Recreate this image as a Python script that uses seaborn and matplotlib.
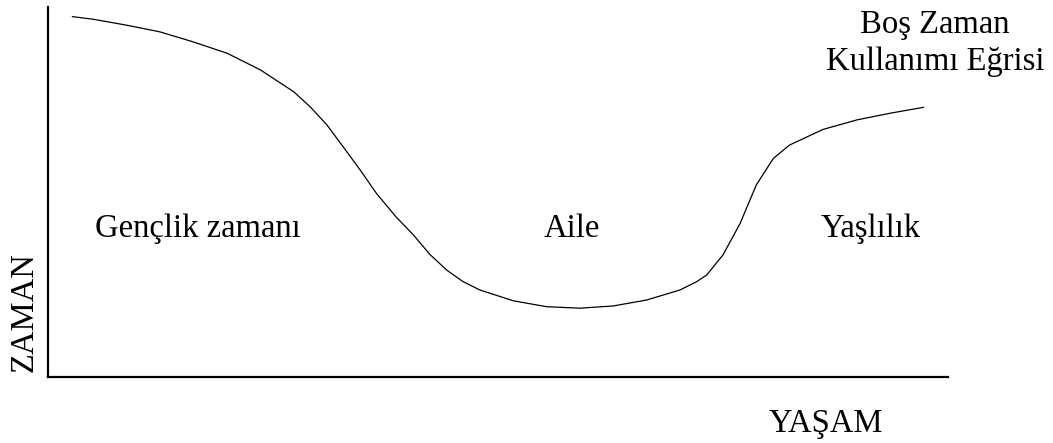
import numpy as np
import pandas as pd
import matplotlib
matplotlib.use("Agg")
import matplotlib.pyplot as plt
import seaborn as sns

# points (life on x, free time on y, both 0-100)
yasam = [2.7, 5.0, 8.7, 12.4, 16.1, 19.9, 23.6, 27.3, 29.1, 31.0, 32.8, 34.7,
         36.5, 38.7, 40.6, 42.4, 44.3, 46.1, 48.0, 51.7, 55.4, 59.1, 62.8, 66.5,
         70.2, 72.1, 73.2, 75.0, 76.9, 78.7, 80.6, 82.4, 86.1, 89.9, 93.6, 97.3]
zaman = [97.4, 96.7, 95.1, 93.3, 90.6, 87.5, 83.0, 77.1, 73.1, 68.1, 62.2, 55.9,
         49.6, 43.2, 38.4, 33.2, 28.9, 25.8, 23.5, 20.6, 19.0, 18.6, 19.2, 20.8,
         23.5, 25.8, 27.6, 33.0, 41.5, 51.9, 59.1, 62.7, 66.9, 69.5, 71.3, 72.9]

# stage labels
donemler = ["Gençlik zamanı", "Aile", "Yaşlılık"]
donem_x = [16.6, 58.2, 91.4]
donem_y = [37.8, 37.8, 37.8]

df = pd.DataFrame({"YASAM": yasam, "ZAMAN": zaman})

sns.set_style("white")
plt.rcParams['font.family'] = ['Liberation Serif', 'DejaVu Serif']
plt.rcParams['text.color'] = 'black'

fig = plt.figure(figsize=(10.53, 4.43), dpi=100)
ax = fig.add_axes([48/1053, 66/443, 900/1053, 370/443])

sns.lineplot(data=df, x="YASAM", y="ZAMAN", ax=ax, color="black", linewidth=0.9, sort=False)

ax.set_xlim(0, 100)
ax.set_ylim(0, 100)
ax.set_xticks([])
ax.set_yticks([])
ax.set_xlabel("")
ax.set_ylabel("")
for s in ["top", "right"]:
    ax.spines[s].set_visible(False)
for s in ["left", "bottom"]:
    ax.spines[s].set_color("black")
    ax.spines[s].set_linewidth(1.6)

for t, x, y in zip(donemler, donem_x, donem_y):
    ax.text(x, y, t, ha="center", va="baseline", fontsize=23.5, color="black")

# curve title top right, axis names
fig.text(935/1053, 1 - 33/443, "Boş Zaman", ha="center", va="baseline", fontsize=23.5)
fig.text(935/1053, 1 - 70/443, "Kullanımı Eğrisi", ha="center", va="baseline", fontsize=23.5)
fig.text(826/1053, 1 - 432/443, "YAŞAM", ha="center", va="baseline", fontsize=23.5)
fig.text(33/1053, 1 - 312/443, "ZAMAN", ha="center", va="baseline", rotation=90,
         rotation_mode="anchor", fontsize=23.5)

fig.savefig("out.png", dpi=100)
